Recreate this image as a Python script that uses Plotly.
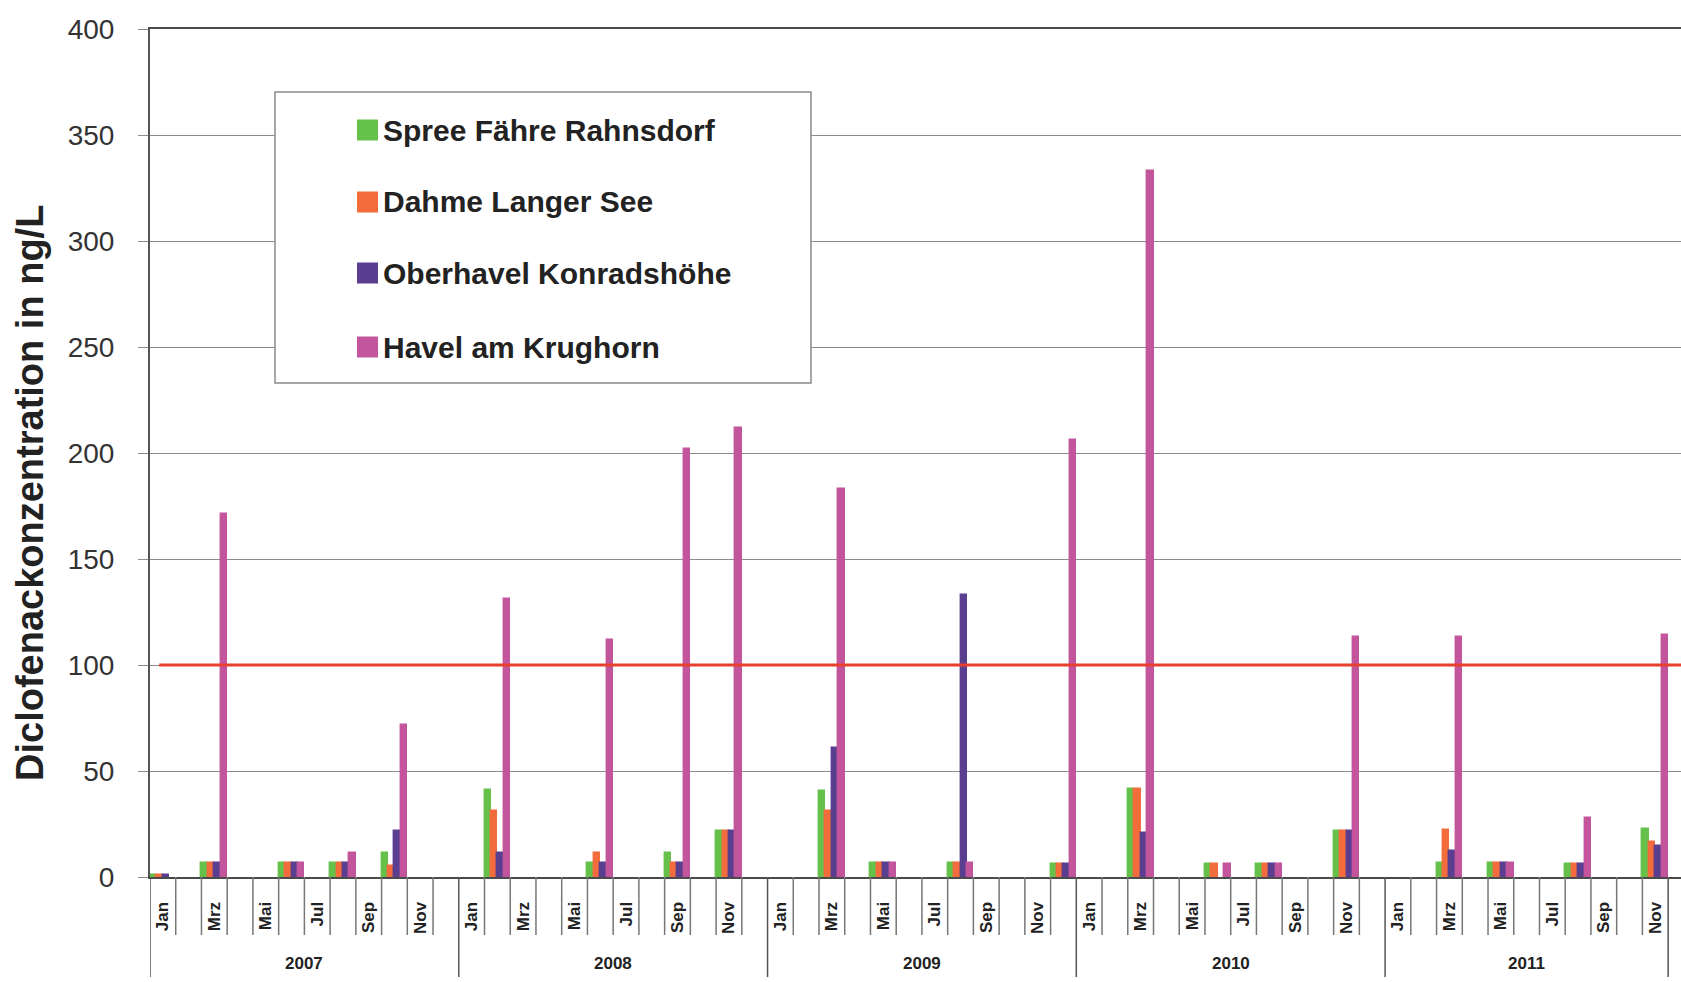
import plotly.graph_objects as go

# ---------------- data ----------------
MONTH_NAMES = ["Jan", "Feb", "Mrz", "Apr", "Mai", "Jun", "Jul", "Aug", "Sep", "Okt", "Nov", "Dez"]
YEARS = [2007, 2008, 2009, 2010, 2011]
LAST_MONTHS_IN_2011 = 11  # axis ends with Nov 2011

SERIES_NAMES = ["Spree Fähre Rahnsdorf", "Dahme Langer See", "Oberhavel Konradshöhe", "Havel am Krughorn"]
SERIES_COLORS = ["#66c14b", "#f26c3c", "#5a3e8f", "#c2559c"]

SAMPLE_DATES = ["Jan 2007", "Mrz 2007", "Jun 2007", "Aug 2007", "Okt 2007",
                "Feb 2008", "Jun 2008", "Sep 2008", "Nov 2008",
                "Mrz 2009", "Mai 2009", "Aug 2009", "Dez 2009",
                "Mrz 2010", "Jun 2010", "Aug 2010", "Nov 2010",
                "Mrz 2011", "Mai 2011", "Aug 2011", "Nov 2011"]
SPREE =     [1, 6.5, 6.5, 6.5, 11.5, 41, 6.6, 11.4, 21.6, 40.6, 6.7, 6.7, 6, 41.3, 6.3, 6.3, 21.6, 6.7, 6.7, 6.3, 22.7]
DAHME =     [1, 6.5, 6.5, 6.5, 5, 31, 11.4, 6.6, 21.6, 31.3, 6.7, 6.7, 6, 41.3, 6.3, 6.3, 21.6, 22.3, 6.7, 6.3, 16.4]
OBERHAVEL = [1, 6.5, 6.5, 6.5, 21.5, 11.4, 6.6, 6.6, 21.6, 61, 6.7, 133, 6, 20.6, None, 6.3, 21.6, 12.2, 6.7, 6.3, 14.8]
HAVEL =     [None, 171, 6.5, 11.5, 71.5, 131, 112, 202, 212, 183, 6.7, 6.7, 206, 333, 6.3, 6.3, 113, 113, 6.7, 28, 114]

LIMIT_VALUE = 100
Y_TICKS = [0, 50, 100, 150, 200, 250, 300, 350, 400]
Y_TITLE = "Diclofenackonzentration in ng/L"

# ---------------- derived ----------------
categories = []
month_of_cat = []
for y in YEARS:
    n = 12 if y != YEARS[-1] else LAST_MONTHS_IN_2011
    for m in MONTH_NAMES[:n]:
        categories.append(f"{m} {y}")
        month_of_cat.append(m)
N = len(categories)

FONT = "Liberation Sans, Arial, sans-serif"
TEXT = "#222222"

fig = go.Figure()
for name, color, vals in zip(SERIES_NAMES, SERIES_COLORS, [SPREE, DAHME, OBERHAVEL, HAVEL]):
    fig.add_trace(go.Bar(x=SAMPLE_DATES, y=vals, name=name,
                         marker=dict(color=color, line=dict(width=1.4, color=color)),
                         showlegend=False))

shapes = []
# cell separators under the axis
year_bounds = []
idx = 0
for y in YEARS:
    year_bounds.append(idx - 0.5)
    idx += 12 if y != YEARS[-1] else LAST_MONTHS_IN_2011
year_bounds.append(N - 0.5)
for k in range(-1, N):
    xb = k + 0.5
    is_year = any(abs(xb - b) < 1e-9 for b in year_bounds)
    shapes.append(dict(type="line", xref="x", yref="paper", x0=xb, x1=xb, y0=0,
                       y1=-0.118 if is_year else -0.0684,
                       line=dict(color="#777777" if not is_year else "#555555", width=1.5), layer="above"))

# threshold line
shapes.append(dict(type="line", xref="paper", yref="y", x0=0.006, x1=1, y0=LIMIT_VALUE, y1=LIMIT_VALUE,
                   line=dict(color="#e8402c", width=3.2), layer="above"))

# legend box (drawn manually)
W, H, L, B0 = 1531.0, 848.0, 150.0, 877.0
def px(xp):
    return (xp - L) / W
def py(yp):
    return (B0 - yp) / H
shapes.append(dict(type="rect", xref="paper", yref="paper", x0=px(275), x1=px(811), y0=py(383), y1=py(92),
                   line=dict(color="#8a8a8a", width=1.5), fillcolor="white", layer="above"))
annotations = []
item_y = [130, 202, 273, 347]
for name, color, yy in zip(SERIES_NAMES, SERIES_COLORS, item_y):
    shapes.append(dict(type="rect", xref="paper", yref="paper", x0=px(357), x1=px(378),
                       y0=py(yy + 10.5), y1=py(yy - 10.5), line=dict(width=0), fillcolor=color, layer="above"))
    annotations.append(dict(xref="paper", yref="paper", x=px(381), y=py(yy), xanchor="left", yanchor="middle",
                            text=name, showarrow=False,
                            font=dict(family=FONT, size=30, color=TEXT, weight="bold")))

# year labels
idx = 0
for y in YEARS:
    n = 12 if y != YEARS[-1] else LAST_MONTHS_IN_2011
    annotations.append(dict(xref="x", yref="paper", x=idx + (n - 1) / 2, y=py(963), xanchor="center",
                            yanchor="middle", text=str(y), showarrow=False,
                            font=dict(family=FONT, size=17, color=TEXT, weight="bold")))
    idx += n

# y-axis title
annotations.append(dict(xref="paper", yref="paper", x=px(30), y=py(493), xanchor="center", yanchor="middle",
                        text=Y_TITLE, textangle=-90, showarrow=False,
                        font=dict(family=FONT, size=38, color=TEXT, weight="bold")))

fig.update_layout(
    width=1681, height=982, autosize=False,
    margin=dict(l=150, r=0, t=29, b=105, pad=0),
    paper_bgcolor="white", plot_bgcolor="white",
    barmode="group", bargap=0.0, bargroupgap=0.0,
    showlegend=False,
    shapes=shapes, annotations=annotations,
    xaxis=dict(type="category", categoryorder="array", categoryarray=categories,
               range=[-0.5, N - 0.5 + 0.5], showgrid=False, zeroline=False,
               showline=True, linecolor="#4a4a4a", linewidth=2.2, mirror=True,
               tickmode="array", tickvals=categories[::2], ticktext=month_of_cat[::2],
               tickangle=-90, ticks="", ticklabelstandoff=16,
               tickfont=dict(family=FONT, size=17, color=TEXT, weight="bold")),
    yaxis=dict(range=[0, 400], tickvals=Y_TICKS, showgrid=True, gridcolor="#8c8c8c", gridwidth=1.3,
               zeroline=False, showline=True, linecolor="#555555", linewidth=2,
               ticks="outside", ticklen=10, tickcolor="#8c8c8c", tickwidth=1.3,
               ticklabelstandoff=18,
               tickfont=dict(family=FONT, size=28, color="#333333")),
)

fig.write_html("out.html", config={"displayModeBar": False},
               post_script="document.body.style.margin='0px';document.body.style.overflow='hidden';")
